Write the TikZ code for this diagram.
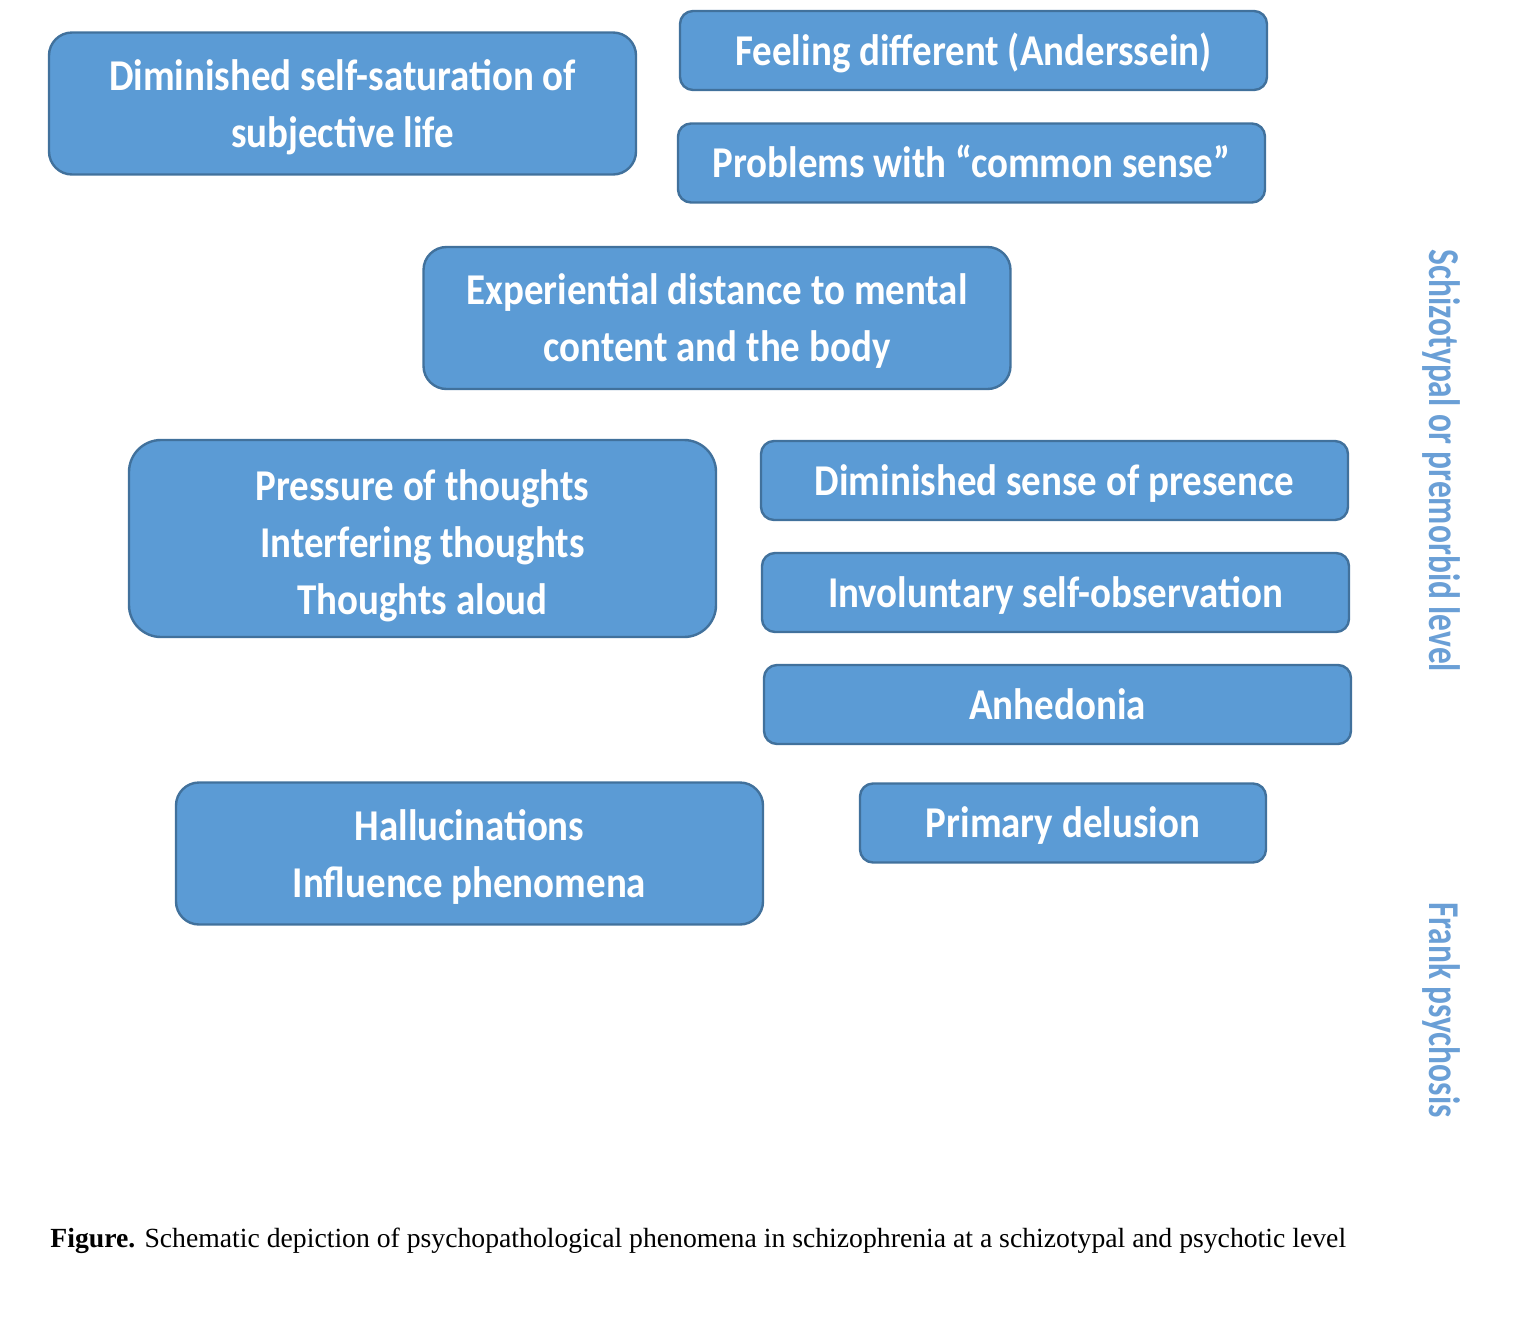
\documentclass[tikz,border=0pt]{standalone}
\usepackage{fontspec}
\setmainfont{Liberation Serif}
\newfontfamily\boxfont[FakeStretch=0.885]{Carlito}
\newfontfamily\sidefont[FakeStretch=0.76]{Carlito}
\definecolor{boxfill}{HTML}{5B9BD5}
\definecolor{boxline}{HTML}{41719C}
\definecolor{sidetext}{HTML}{6A9FD6}
\tikzset{
  x=0.5pt, y=-0.5pt,
  box/.style={draw=boxline, fill=boxfill, line width=1.2pt, text=white,
    font=\boxfont\bfseries\fontsize{22}{28.5}\selectfont, align=center,
    inner sep=0pt, minimum width=293.5pt, text depth=0pt},
  smallbox/.style={box, minimum height=39.5pt, rounded corners=6.5pt, text height=14.5pt},
  twobox/.style={box, minimum height=71pt, rounded corners=11.5pt, text height=43.5pt},
  threebox/.style={box, minimum height=98.5pt, rounded corners=16pt, text height=75.5pt},
  side/.style={text=sidetext, font=\sidefont\bfseries\fontsize{22}{28.5}\selectfont, rotate=-90, inner sep=0pt},
  caption/.style={font=\fontsize{13.85}{16}\selectfont, anchor=base west, inner sep=0pt},
}
\begin{document}
\begin{tikzpicture}
\useasboundingbox (0,0) rectangle (1520,1318);
\node[twobox] (selfsat) at (342.5,103.5) {Diminished self-saturation of\\subjective life};
\node[smallbox] (feeling) at (973.5,50.5) {Feeling different (Anderssein)};
\node[smallbox] (common) at (971.5,163) {Problems with “common sense”};
\node[twobox] (distance) at (717,318) {Experiential distance to mental\\content and the body};
\node[threebox] (thoughts) at (422.5,538.5) {Pressure of thoughts\\Interfering thoughts\\Thoughts aloud};
\node[smallbox] (presence) at (1054.5,480.5) {Diminished sense of presence};
\node[smallbox] (observ) at (1055.5,592.5) {Involuntary self-observation};
\node[smallbox] (anhed) at (1057.5,704.5) {Anhedonia};
\node[twobox] (halluc) at (469.5,853.5) {Hallucinations\\Influence phenomena};
\node[smallbox, minimum width=203pt] (delus) at (1063,823) {Primary delusion};
\node[side] (schizo) at (1441,461) {Schizotypal or premorbid level};
\node[side] (frank) at (1441,1010) {Frank psychosis};
\node[caption] (cap) at (50,1247) {\textbf{Figure.} Schematic depiction of psychopathological phenomena in schizophrenia at a schizotypal and psychotic level};
\end{tikzpicture}
\end{document}
